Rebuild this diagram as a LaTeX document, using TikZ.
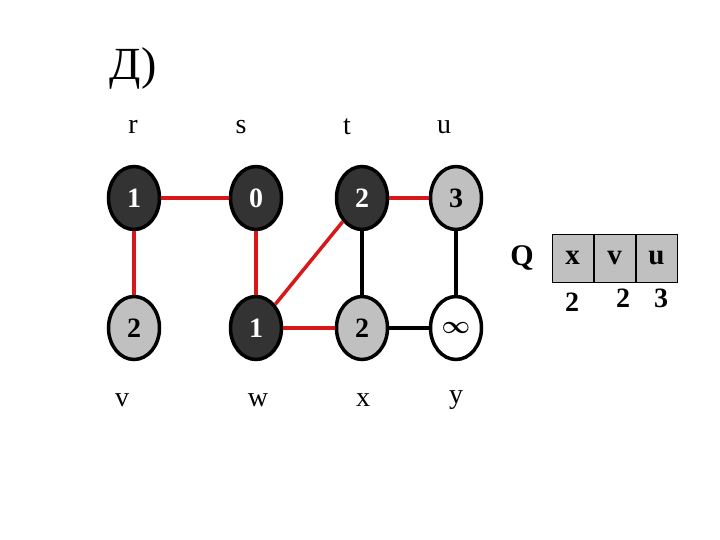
\documentclass[tikz,border=0pt]{standalone}
\usepackage{fontspec}
\setmainfont{Liberation Serif}
\usetikzlibrary{shapes.geometric}
\definecolor{darkn}{HTML}{333333}
\definecolor{grayn}{HTML}{C0C0C0}
\definecolor{redl}{HTML}{D81818}
\tikzset{
  vert/.style={ellipse,draw=black,line width=3.5pt,minimum width=51pt,minimum height=63pt,inner sep=0pt,font=\fontsize{28}{30}\selectfont\bfseries},
  darkv/.style={vert,fill=darkn,text=white},
  grayv/.style={vert,fill=grayn,text=black},
  whitev/.style={vert,fill=white,text=black},
  lbl/.style={font=\fontsize{28}{30}\selectfont},
  redge/.style={draw=redl,line width=3.5pt},
  bedge/.style={draw=black,line width=3.5pt},
  qbox/.style={draw=black,fill=grayn,line width=1pt,minimum width=41pt,minimum height=48pt,inner sep=0pt,font=\fontsize{29}{30}\selectfont\bfseries},
  qnum/.style={font=\fontsize{28}{30}\selectfont\bfseries},
}
\begin{document}
\begin{tikzpicture}[x=1pt,y=-1pt]
\useasboundingbox (0,0) rectangle (720,540);
\node[font=\fontsize{46}{48}\selectfont] (title) at (133,68) {Д)};
% labels
\node[lbl] (lr) at (133,127) {r};
\node[lbl] (ls) at (241,127) {s};
\node[lbl] (lt) at (347,127) {t};
\node[lbl] (lu) at (444,127) {u};
\node[lbl] (lv) at (122,400) {v};
\node[lbl] (lw) at (258,400) {w};
\node[lbl] (lx) at (363,400) {x};
\node[lbl] (ly) at (456,400) {y};
% vertices
\node[darkv] (r) at (134,198) {1};
\node[darkv] (s) at (256,198) {0};
\node[darkv] (t) at (362,198) {2};
\node[grayv] (u) at (456,198) {3};
\node[grayv] (v) at (134,328) {2};
\node[darkv] (w) at (256,328) {1};
\node[grayv] (x) at (362,328) {2};
\node[whitev,font=\fontsize{32}{32}\selectfont\boldmath] (y) at (456,328) {$\infty$};
% edges
\draw[redge] (r) -- (s);
\draw[redge] (r) -- (v);
\draw[redge] (s) -- (w);
\draw[redge] (w) -- (t);
\draw[redge] (t) -- (u);
\draw[redge] (w) -- (x);
\draw[bedge] (t) -- (x);
\draw[bedge] (u) -- (y);
\draw[bedge] (x) -- (y);
% queue
\node[font=\fontsize{30}{30}\selectfont\bfseries] (Q) at (522,258) {Q};
\node[qbox] (qx) at (572.5,258) {x};
\node[qbox] (qv) at (614.5,258) {v};
\node[qbox] (qu) at (656.5,258) {u};
\node[qnum] (dx) at (572,302) {2};
\node[qnum] (dv) at (623,298) {2};
\node[qnum] (du) at (661,298) {3};
\end{tikzpicture}
\end{document}
